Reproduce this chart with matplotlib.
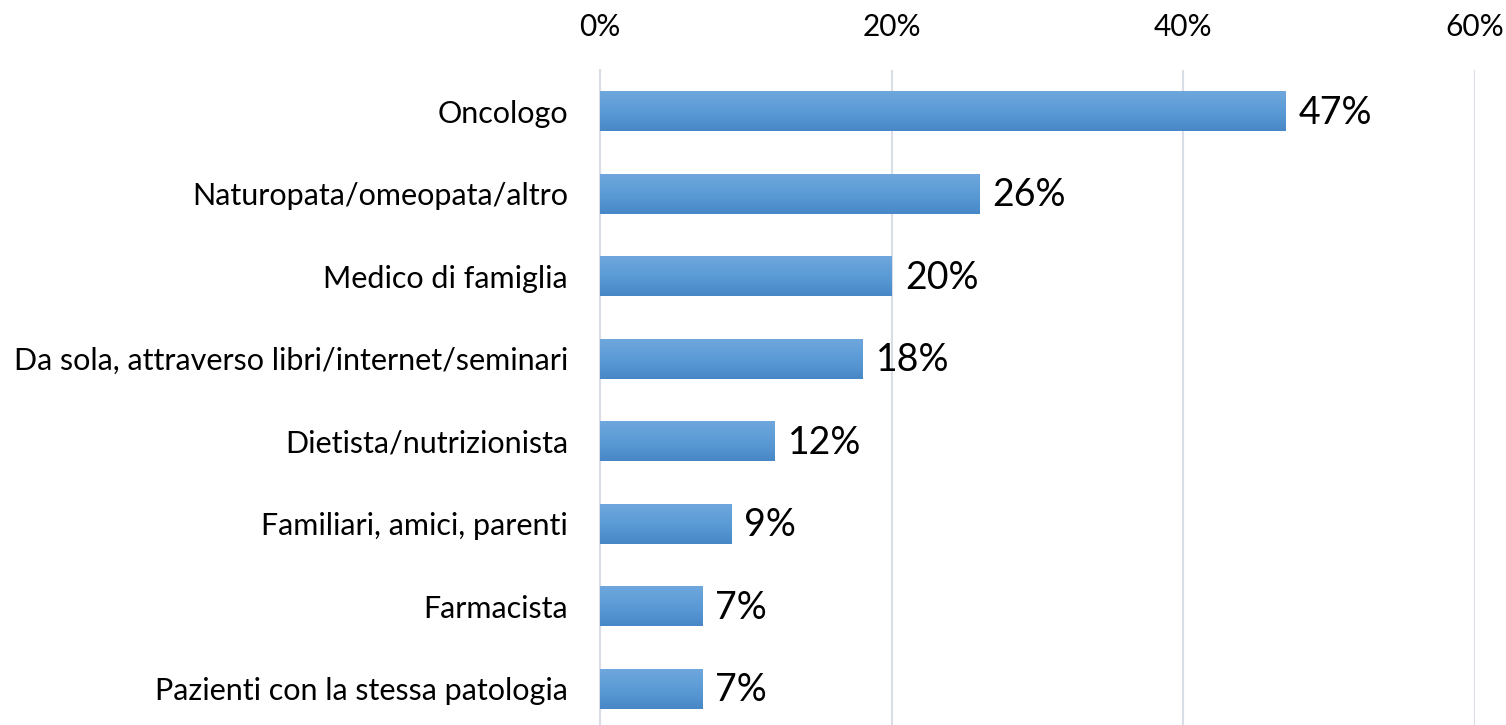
import matplotlib
matplotlib.use('Agg')
import matplotlib.pyplot as plt
from matplotlib.colors import LinearSegmentedColormap
import numpy as np

categories = ['Oncologo', 'Naturopata/omeopata/altro', 'Medico di famiglia',
              'Da sola, attraverso libri/internet/seminari', 'Dietista/nutrizionista',
              'Familiari, amici, parenti', 'Farmacista', 'Pazienti con la stessa patologia']
values = [0.47, 0.26, 0.20, 0.18, 0.12, 0.09, 0.07, 0.07]
ticks = [0, 0.2, 0.4, 0.6]
tick_labels = ['0%', '20%', '40%', '60%']

plt.rcParams['font.family'] = ['Lato', 'DejaVu Sans']
GRID = '#D9DEE6'

fig = plt.figure(figsize=(15.06, 7.25), dpi=100)
ax = fig.add_axes([600/1506, 0, 875/1506, 655/725])
y = np.arange(len(categories))
bars = ax.barh(y, values, height=0.485, color='#5B9BD5', zorder=2)

# excel-style vertical gradient inside each bar
grad = LinearSegmentedColormap.from_list('g', ['#6FA7DD', '#5B9BD5', '#4787C7'])
for b in bars:
    x0, y0 = b.get_x(), b.get_y()
    w, h = b.get_width(), b.get_height()
    im = ax.imshow(np.linspace(0, 1, 50).reshape(-1, 1), cmap=grad, aspect='auto',
                   extent=(x0, x0 + w, y0 + h, y0), zorder=3, interpolation='bilinear')
    im.set_clip_path(b)

for i, v in enumerate(values):
    ax.text(v + 0.009, i + 0.02, f'{v*100:.0f}%', va='center', ha='left', fontsize=27, color='#000000')

ax.set_xlim(0, 0.6)
ax.set_ylim(len(categories) - 0.5 - 0.058, -0.5)
ax.set_xticks(ticks)
ax.set_xticklabels(tick_labels, fontsize=21.5)
ax.set_yticks(y)
ax.set_yticklabels(categories, fontsize=22)
ax.xaxis.tick_top()
ax.tick_params(axis='x', length=0, pad=21)
ax.tick_params(axis='y', length=0, pad=23)
ax.grid(axis='x', color=GRID, lw=1.5, zorder=0)
for s in ['top', 'right', 'bottom']:
    ax.spines[s].set_visible(False)
ax.spines['left'].set_color(GRID)
ax.spines['left'].set_linewidth(1.5)

fig.savefig('out.png', dpi=100, facecolor='white')
